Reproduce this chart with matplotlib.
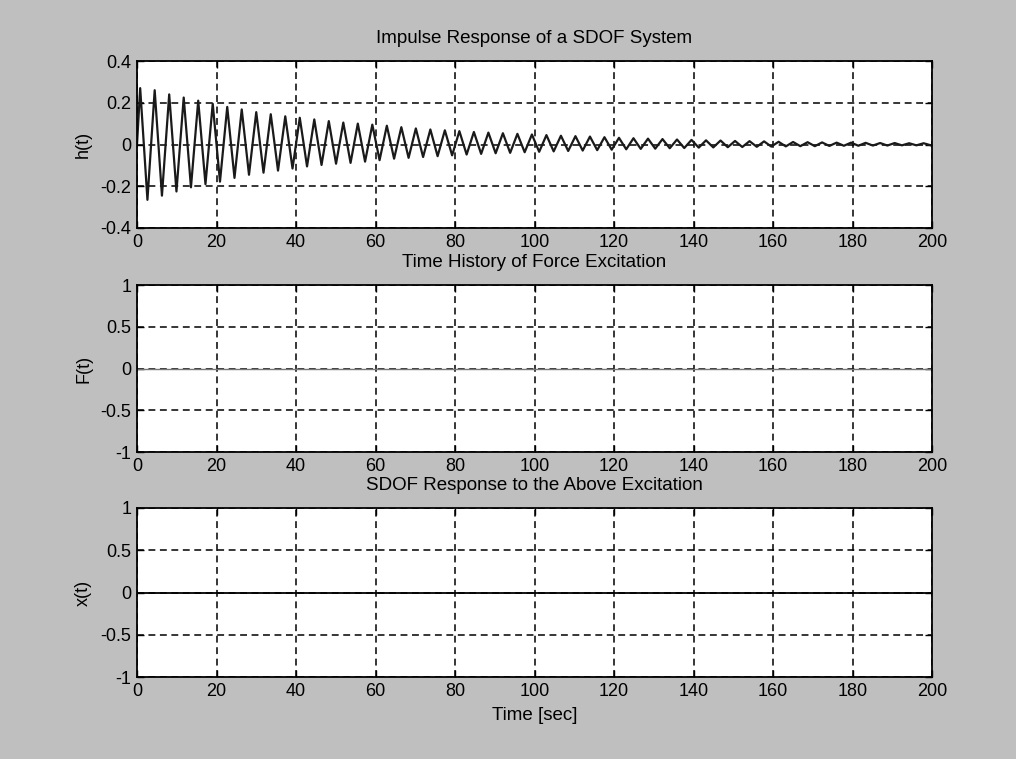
import numpy as np
import matplotlib
matplotlib.use('Agg')
import matplotlib.pyplot as plt

# ── data ─────────────────────────────────────────────────────────────────────
# impulse response: successive maxima / minima of the decaying oscillation
period = 3.65
t_first_max = 0.8
h_max = [0.27, 0.26, 0.24, 0.225, 0.21, 0.195, 0.18, 0.168, 0.155, 0.145,
         0.135, 0.128, 0.12, 0.112, 0.105, 0.10, 0.095, 0.09, 0.083, 0.077,
         0.072, 0.068, 0.064, 0.06, 0.057, 0.054, 0.051, 0.048, 0.045, 0.042,
         0.04, 0.038, 0.035, 0.032, 0.03, 0.028, 0.026, 0.024, 0.022, 0.02,
         0.019, 0.017, 0.016, 0.015, 0.013, 0.012, 0.011, 0.01, 0.009, 0.009,
         0.008, 0.007, 0.007, 0.006, 0.006]
h_min = [-0.265, -0.245, -0.225, -0.205, -0.19, -0.178, -0.16, -0.145, -0.135, -0.125,
         -0.115, -0.105, -0.098, -0.092, -0.088, -0.082, -0.075, -0.068, -0.064, -0.06,
         -0.056, -0.052, -0.048, -0.045, -0.042, -0.04, -0.037, -0.035, -0.033, -0.031,
         -0.029, -0.027, -0.025, -0.023, -0.021, -0.02, -0.018, -0.017, -0.015, -0.014,
         -0.013, -0.012, -0.011, -0.01, -0.009, -0.008, -0.008, -0.007, -0.006, -0.006,
         -0.005, -0.005, -0.004, -0.004, -0.004]

# force excitation and SDOF response (both flat zero in the picture)
t_flat = [0, 200]
f_vals = [0, 0]
x_vals = [0, 0]

x_ticks = [0, 20, 40, 60, 80, 100, 120, 140, 160, 180, 200]
h_ticks = [-0.4, -0.2, 0, 0.2, 0.4]
h_ticklabels = ['-0.4', '-0.2', '0', '0.2', '0.4']
fx_ticks = [-1, -0.5, 0, 0.5, 1]
fx_ticklabels = ['-1', '-0.5', '0', '0.5', '1']

titles = ['Impulse Response of a SDOF System',
          'Time History of Force Excitation',
          'SDOF Response to the Above Excitation']
ylabels = ['h(t)', 'F(t)', 'x(t)']

# interleave maxima / minima into one trace starting at h(0) = 0
t_h = [0.0]
h_vals = [0.0]
for k, (hi, lo) in enumerate(zip(h_max, h_min)):
    t_h += [t_first_max + k * period, t_first_max + (k + 0.5) * period]
    h_vals += [hi, lo]
t_h = np.array(t_h)
h_vals = np.array(h_vals)
keep = t_h <= 200
t_h, h_vals = t_h[keep], h_vals[keep]

# ── figure ───────────────────────────────────────────────────────────────────
plt.rcParams['font.family'] = ['Liberation Sans', 'DejaVu Sans']
bg = '#bfbfbf'
fig = plt.figure(figsize=(10.16, 7.59), dpi=100, facecolor=bg)

W, H = 1016, 759
boxes = [(137, 61, 932, 228), (137, 285, 932, 452), (137, 508, 932, 677)]
axes = []
for (l, t, r, b) in boxes:
    ax = fig.add_axes([l / W, 1 - b / H, (r - l) / W, (b - t) / H])
    axes.append(ax)

axes[0].plot(t_h, h_vals, color='#1a1a1a', linewidth=1.6, solid_joinstyle='round')
axes[1].plot(t_flat, f_vals, color='#777777', linewidth=1.0)
axes[2].plot(t_flat, x_vals, color='black', linewidth=1.3)

for i, ax in enumerate(axes):
    ax.set_facecolor('white')
    ax.set_xlim(0, 200)
    ax.set_xticks(x_ticks)
    ax.set_xticklabels([str(v) for v in x_ticks])
    if i == 0:
        ax.set_ylim(-0.4, 0.4)
        ax.set_yticks(h_ticks)
        ax.set_yticklabels(h_ticklabels)
    else:
        ax.set_ylim(-1, 1)
        ax.set_yticks(fx_ticks)
        ax.set_yticklabels(fx_ticklabels)
    ax.grid(True, color='black', linestyle=(0, (4.5, 3.0)), linewidth=1.1)
    ax.set_axisbelow(True)
    ax.tick_params(direction='in', length=5, width=1, top=True, right=True,
                   labelsize=13, pad=4, colors='black')
    for sp in ax.spines.values():
        sp.set_linewidth(1.3)
        sp.set_color('black')
    ax.set_title(titles[i], fontsize=13.5, pad=13)
    ax.set_ylabel(ylabels[i], fontsize=13, labelpad=6)

axes[2].set_xlabel('Time [sec]', fontsize=13.5, labelpad=5)

plt.savefig('out.png', dpi=100, facecolor=bg)
plt.close()
